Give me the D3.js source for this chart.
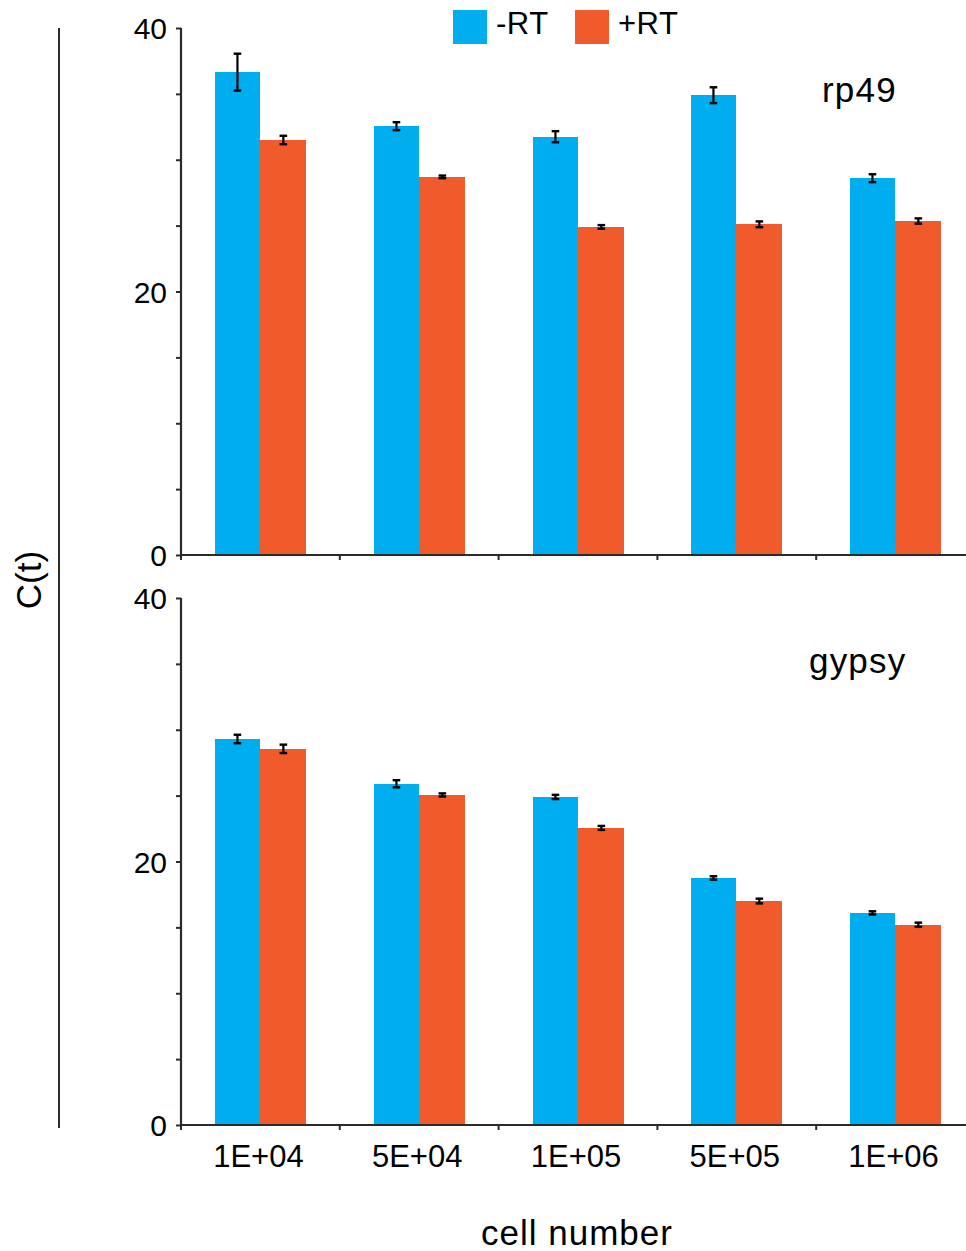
<!DOCTYPE html>
<html>
<head>
<meta charset="utf-8">
<script src="https://cdn.jsdelivr.net/npm/d3@7"></script>
<style>
  html, body { margin: 0; padding: 0; background: #fff; }
  svg { display: block; font-family: "Liberation Sans", Arial, Helvetica, sans-serif; }
</style>
</head>
<body>
<svg id="chart" width="966" height="1251"></svg>
<script>
// Cell-number dilutions on the x axis
const categories = ["1E+04", "5E+04", "1E+05", "5E+05", "1E+06"];
const seriesNames = ["-RT", "+RT"];

// rp49 C(t) means and error half-widths
const rp49Minus = [36.65, 32.55, 31.75, 34.9, 28.6];
const rp49MinusErr = [1.4, 0.3, 0.42, 0.6, 0.3];
const rp49Plus = [31.5, 28.7, 24.9, 25.1, 25.35];
const rp49PlusErr = [0.32, 0.1, 0.14, 0.22, 0.2];

// gypsy C(t) means and error half-widths
const gypsyMinus = [29.3, 25.9, 24.9, 18.75, 16.1];
const gypsyMinusErr = [0.32, 0.27, 0.16, 0.13, 0.12];
const gypsyPlus = [28.55, 25.05, 22.55, 17.0, 15.2];
const gypsyPlusErr = [0.32, 0.12, 0.15, 0.18, 0.16];

const yTicks = [0, 5, 10, 15, 20, 25, 30, 35, 40];
const yTickLabels = [0, 20, 40];

const colors = { "-RT": "#00AEEF", "+RT": "#F15A2B" };
const axisColor = "#2b2b2b";

const svg = d3.select("#chart");

const x0 = d3.scaleBand().domain(categories).range([181, 975]).padding(0);
const x1 = d3.scaleBand().domain(seriesNames).range([0, x0.bandwidth()])
  .paddingInner(0).paddingOuter(0.73);

const panels = [
  { name: "rp49", top: 28, bottom: 555, minus: rp49Minus, minusErr: rp49MinusErr,
    plus: rp49Plus, plusErr: rp49PlusErr, labelX: 822, labelY: 102 },
  { name: "gypsy", top: 598, bottom: 1125, minus: gypsyMinus, minusErr: gypsyMinusErr,
    plus: gypsyPlus, plusErr: gypsyPlusErr, labelX: 809, labelY: 673 }
];

panels.forEach((p, pi) => {
  const y = d3.scaleLinear().domain([0, 40]).range([p.bottom, p.top]);
  const g = svg.append("g");

  const rows = categories.map((c, i) => ({
    cat: c,
    vals: [
      { s: "-RT", v: p.minus[i], e: p.minusErr[i] },
      { s: "+RT", v: p.plus[i], e: p.plusErr[i] }
    ]
  }));

  const groups = g.selectAll("g.cat").data(rows).join("g")
    .attr("class", "cat")
    .attr("transform", d => `translate(${Math.round(x0(d.cat))},0)`);

  groups.selectAll("rect").data(d => d.vals).join("rect")
    .attr("x", d => Math.round(x1(d.s)))
    .attr("width", d => Math.round(x1(d.s) + x1.bandwidth()) - Math.round(x1(d.s)))
    .attr("y", d => y(d.v))
    .attr("height", d => y(0) - y(d.v))
    .attr("fill", d => colors[d.s])
    .attr("shape-rendering", "crispEdges");

  // error bars
  const eb = groups.selectAll("g.err").data(d => d.vals).join("g").attr("class", "err")
    .attr("transform", d => `translate(${x1(d.s) + x1.bandwidth() / 2},0)`);
  eb.append("line")
    .attr("y1", d => y(d.v + d.e)).attr("y2", d => y(d.v - d.e))
    .attr("stroke", "#000").attr("stroke-width", 2.2);
  eb.append("line")
    .attr("x1", -3.8).attr("x2", 3.8)
    .attr("y1", d => y(d.v + d.e)).attr("y2", d => y(d.v + d.e))
    .attr("stroke", "#000").attr("stroke-width", 2.4);
  eb.append("line")
    .attr("x1", -3.8).attr("x2", 3.8)
    .attr("y1", d => y(d.v - d.e)).attr("y2", d => y(d.v - d.e))
    .attr("stroke", "#000").attr("stroke-width", 2.4);

  // y axis
  const yAxis = d3.axisLeft(y).tickValues(yTicks).tickSize(5).tickPadding(9)
    .tickFormat(d => yTickLabels.includes(d) ? d : "");
  const ya = g.append("g").attr("transform", "translate(181,0)").call(yAxis);
  ya.select(".domain").attr("stroke", axisColor).attr("stroke-width", 2.2)
    .attr("d", `M0,${p.top}V${p.bottom}`);
  ya.selectAll(".tick line").attr("stroke", axisColor).attr("stroke-width", 2);
  ya.selectAll(".tick text").attr("font-size", 30).attr("fill", "#000")
    .attr("font-family", "'Liberation Sans', Arial, sans-serif")
    .attr("dy", "0.36em");

  // x axis: ticks on the category boundaries
  const boundaries = categories.map(c => x0(c));
  const xa = g.append("g");
  xa.append("line").attr("x1", 181).attr("x2", 975)
    .attr("y1", p.bottom).attr("y2", p.bottom)
    .attr("stroke", axisColor).attr("stroke-width", 2.2);
  xa.selectAll("line.tk").data(boundaries).join("line").attr("class", "tk")
    .attr("x1", d => d).attr("x2", d => d)
    .attr("y1", p.bottom).attr("y2", p.bottom + 5)
    .attr("stroke", axisColor).attr("stroke-width", 2);

  if (pi === 1) {
    xa.selectAll("text.xl").data(categories).join("text").attr("class", "xl")
      .attr("x", d => x0(d) + x0.bandwidth() / 2 - 2)
      .attr("y", p.bottom + 42)
      .attr("text-anchor", "middle")
      .attr("font-size", 31)
      .text(d => d);
  }

  // gene label
  g.append("text")
    .attr("x", p.labelX).attr("y", p.labelY)
    .attr("font-size", 35)
    .attr("letter-spacing", 1.2)
    .text(p.name);
});

// legend
const legend = svg.append("g");
const legendItems = [
  { s: "-RT", x: 453 },
  { s: "+RT", x: 575 }
];
legend.selectAll("rect").data(legendItems).join("rect")
  .attr("x", d => d.x).attr("y", 10).attr("width", 34).attr("height", 34)
  .attr("fill", d => colors[d.s]);
legend.selectAll("text").data(legendItems).join("text")
  .attr("x", d => d.x + 43).attr("y", 34)
  .attr("font-size", 31)
  .attr("letter-spacing", 0.5)
  .text(d => d.s);

// shared y title with bracket line
svg.append("line").attr("x1", 59).attr("x2", 59).attr("y1", 28).attr("y2", 1128)
  .attr("stroke", axisColor).attr("stroke-width", 2);
svg.append("text")
  .attr("transform", "translate(41,580) rotate(-90)")
  .attr("text-anchor", "middle")
  .attr("font-size", 35)
  .text("C(t)");

// x title
svg.append("text")
  .attr("x", 577).attr("y", 1245)
  .attr("text-anchor", "middle")
  .attr("font-size", 35)
  .attr("letter-spacing", 1)
  .text("cell number");
</script>
</body>
</html>
